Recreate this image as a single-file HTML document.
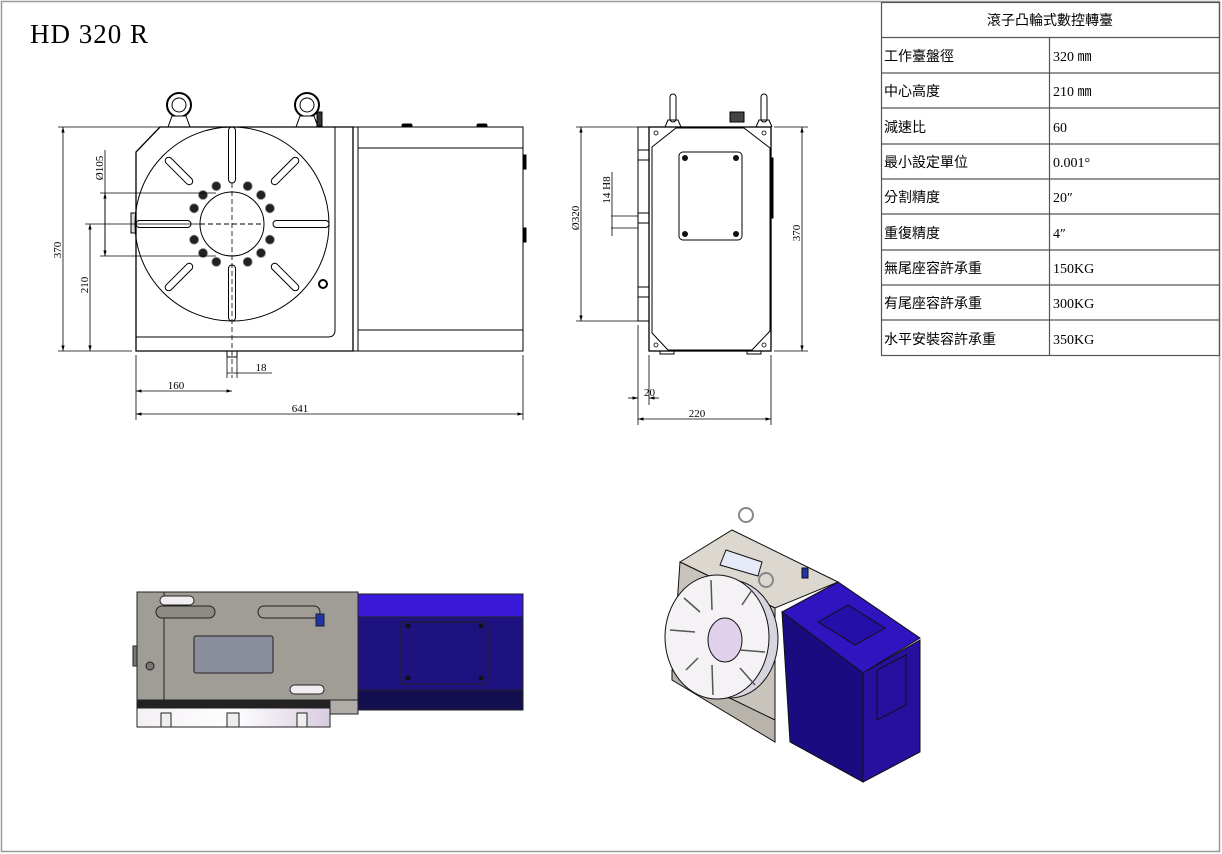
<!DOCTYPE html>
<html><head><meta charset="utf-8"><style>
html,body{margin:0;padding:0;background:#fff;}
svg{display:block}
.t{font-family:"Liberation Serif","Noto Serif CJK SC",serif;font-size:11px;fill:#000}
.c{font-family:"Liberation Sans","Noto Sans CJK TC",sans-serif;font-size:14px;fill:#000}
.v{font-family:"Liberation Serif","Noto Sans CJK TC",serif;font-size:14px;fill:#000}
</style></head><body>
<svg width="1222" height="854" viewBox="0 0 1222 854" xmlns="http://www.w3.org/2000/svg">
<defs>
<marker id="a" viewBox="0 0 10 10" refX="10" refY="5" markerWidth="7" markerHeight="7" orient="auto-start-reverse"><path d="M0,2 L10,5 L0,8z" fill="#000"/></marker>
<linearGradient id="rl" x1="0" x2="1"><stop offset="0" stop-color="#f4f0f4"/><stop offset="0.5" stop-color="#fff"/><stop offset="1" stop-color="#d8cce0"/></linearGradient>
</defs>
<rect x="1.5" y="1.5" width="1218" height="850" fill="none" stroke="#999" stroke-width="1.5"/>
<text x="30" y="43" font-family="Liberation Serif,serif" font-size="27" textLength="118" lengthAdjust="spacing">HD  320  R</text>

<!-- table -->
<g stroke="#555" stroke-width="1.2" fill="none">
<rect x="881.5" y="2.5" width="338" height="353"/>
<line x1="881" y1="37.5" x2="1220" y2="37.5"/>
<line x1="881" y1="73" x2="1220" y2="73"/><line x1="881" y1="108" x2="1220" y2="108"/>
<line x1="881" y1="144" x2="1220" y2="144"/><line x1="881" y1="179" x2="1220" y2="179"/>
<line x1="881" y1="214" x2="1220" y2="214"/><line x1="881" y1="250" x2="1220" y2="250"/>
<line x1="881" y1="285" x2="1220" y2="285"/><line x1="881" y1="320" x2="1220" y2="320"/>
<line x1="1049.5" y1="37" x2="1049.5" y2="355"/>
</g>
<text class="c" x="1050" y="25" text-anchor="middle">滾子凸輪式數控轉臺</text>
<g class="c"><text x="884" y="61">工作臺盤徑</text><text x="884" y="96">中心高度</text><text x="884" y="132">減速比</text><text x="884" y="167">最小設定單位</text><text x="884" y="202">分割精度</text><text x="884" y="238">重復精度</text><text x="884" y="273">無尾座容許承重</text><text x="884" y="308">有尾座容許承重</text><text x="884" y="344">水平安裝容許承重</text></g>
<g class="v"><text x="1053" y="61">320 ㎜</text><text x="1053" y="96">210 ㎜</text><text x="1053" y="132">60</text><text x="1053" y="167">0.001°</text><text x="1053" y="202">20″</text><text x="1053" y="238">4″</text><text x="1053" y="273">150KG</text><text x="1053" y="308">300KG</text><text x="1053" y="344">350KG</text></g>

<!-- front view -->
<g stroke="#000" stroke-width="1" fill="none">
<circle cx="179" cy="105" r="12" stroke-width="2"/><circle cx="179" cy="105" r="7"/>
<path d="M168,127 L172,116 L186,116 L190,127" fill="#fff"/>
<circle cx="307" cy="105" r="12" stroke-width="2"/><circle cx="307" cy="105" r="7"/>
<path d="M296,127 L300,116 L314,116 L318,127" fill="#fff"/>
<rect x="317" y="112" width="5" height="14" fill="#333"/>
<path d="M160,127 L353,127 L353,351 L136,351 L136,152 Z" stroke-width="1.3"/>
<path d="M136,337 L328,337 Q335,337 335,330 L335,127"/>
<rect x="353" y="127" width="5" height="224"/>
<rect x="358" y="127" width="165" height="224"/>
<line x1="358" y1="148" x2="523" y2="148"/><line x1="358" y1="330" x2="523" y2="330"/>
<rect x="402" y="124" width="10" height="3" rx="1.5" fill="#000"/><rect x="477" y="124" width="10" height="3" rx="1.5" fill="#000"/>
<rect x="523" y="155" width="3" height="14" fill="#000"/><rect x="523" y="228" width="3" height="14" fill="#000"/>
<rect x="131" y="213" width="5" height="20" fill="#ddd"/>
<circle cx="232" cy="224" r="97"/>
<circle cx="232" cy="224" r="32"/>
<circle cx="323" cy="284" r="4" stroke-width="2"/>
<rect x="228.5" y="127" width="7" height="56" rx="3.5"/>
<rect x="228.5" y="265" width="7" height="56" rx="3.5"/>
<rect x="136" y="220.5" width="55" height="7" rx="3.5"/>
<rect x="273" y="220.5" width="56" height="7" rx="3.5"/>
<g transform="rotate(45 232 224)"><rect x="228.5" y="131" width="7" height="36" rx="3.5"/><rect x="228.5" y="281" width="7" height="36" rx="3.5"/></g>
<g transform="rotate(-45 232 224)"><rect x="228.5" y="131" width="7" height="36" rx="3.5"/><rect x="228.5" y="281" width="7" height="36" rx="3.5"/></g>
<line x1="200" y1="224" x2="264" y2="224" stroke-dasharray="5,3"/>
<line x1="232" y1="183" x2="232" y2="378" stroke-dasharray="5,3" stroke-width="0.8"/>
<rect x="227" y="351" width="10" height="6"/>
</g>
<g fill="#222" stroke="#888" stroke-width="0.8">
<circle cx="247.7" cy="186.1" r="4.5"/><circle cx="261" cy="195" r="4.5"/><circle cx="269.9" cy="208.3" r="4.5"/>
<circle cx="269.9" cy="239.7" r="4.5"/><circle cx="261" cy="253" r="4.5"/><circle cx="247.7" cy="261.9" r="4.5"/>
<circle cx="216.3" cy="186.1" r="4.5"/><circle cx="203" cy="195" r="4.5"/><circle cx="194.1" cy="208.3" r="4.5"/>
<circle cx="194.1" cy="239.7" r="4.5"/><circle cx="203" cy="253" r="4.5"/><circle cx="216.3" cy="261.9" r="4.5"/>
</g>
<!-- front dims -->
<g stroke="#000" stroke-width="0.8" fill="none">
<line x1="58" y1="127" x2="160" y2="127"/><line x1="58" y1="351" x2="132" y2="351"/>
<line x1="63" y1="127" x2="63" y2="351" marker-start="url(#a)" marker-end="url(#a)"/>
<line x1="85" y1="224" x2="200" y2="224"/>
<line x1="90" y1="224" x2="90" y2="351" marker-start="url(#a)" marker-end="url(#a)"/>
<line x1="100" y1="193" x2="216" y2="193"/><line x1="100" y1="256" x2="216" y2="256"/>
<line x1="105" y1="150" x2="105" y2="256"/>
<line x1="105" y1="193" x2="105" y2="256" marker-start="url(#a)" marker-end="url(#a)"/>
<line x1="136" y1="355" x2="136" y2="420"/><line x1="523" y1="355" x2="523" y2="420"/>
<line x1="227" y1="357" x2="227" y2="378"/><line x1="237" y1="357" x2="237" y2="378"/>
<line x1="136" y1="391" x2="232" y2="391" marker-start="url(#a)" marker-end="url(#a)"/>
<line x1="227" y1="373" x2="272" y2="373"/>
<line x1="136" y1="414" x2="523" y2="414" marker-start="url(#a)" marker-end="url(#a)"/>
</g>
<text class="t" transform="translate(61,250) rotate(-90)" text-anchor="middle">370</text>
<text class="t" transform="translate(88,285) rotate(-90)" text-anchor="middle">210</text>
<text class="t" transform="translate(103,168) rotate(-90)" text-anchor="middle">Ø105</text>
<text class="t" x="176" y="389" text-anchor="middle">160</text>
<text class="t" x="261" y="371" text-anchor="middle">18</text>
<text class="t" x="300" y="412" text-anchor="middle">641</text>

<!-- side view -->
<g stroke="#000" stroke-width="1" fill="none">
<rect x="670" y="94" width="6" height="28" rx="3"/><rect x="761" y="94" width="6" height="28" rx="3"/>
<path d="M665,127 L668,120 L678,120 L681,127"/><path d="M756,127 L759,120 L769,120 L772,127"/>
<rect x="730" y="112" width="14" height="10" fill="#444"/>
<rect x="649" y="127" width="122" height="224" stroke-width="1.3"/>
<rect x="638" y="127" width="11" height="194"/>
<path d="M676,128 L744,128 L770,148 L770,331 L752,350 L668,350 L652,333 L652,147 Z"/>
<rect x="679" y="152" width="63" height="88" rx="4"/>
<rect x="638" y="150" width="11" height="10"/><rect x="638" y="213" width="11" height="10"/><rect x="638" y="287" width="11" height="10"/>
<rect x="660" y="351" width="14" height="3"/><rect x="747" y="351" width="14" height="3"/>
<rect x="770" y="158" width="3" height="60" fill="#000"/>
</g>
<g fill="#111"><circle cx="685" cy="158" r="3"/><circle cx="736" cy="158" r="3"/><circle cx="685" cy="234" r="3"/><circle cx="736" cy="234" r="3"/></g>
<g fill="none" stroke="#000" stroke-width="0.8"><circle cx="656" cy="133" r="2"/><circle cx="764" cy="133" r="2"/><circle cx="656" cy="345" r="2"/><circle cx="764" cy="345" r="2"/></g>
<g stroke="#000" stroke-width="0.8" fill="none">
<line x1="576" y1="127" x2="649" y2="127"/><line x1="576" y1="321" x2="638" y2="321"/>
<line x1="581" y1="127" x2="581" y2="321" marker-start="url(#a)" marker-end="url(#a)"/>
<line x1="774" y1="127" x2="808" y2="127"/><line x1="774" y1="351" x2="808" y2="351"/>
<line x1="802" y1="127" x2="802" y2="351" marker-start="url(#a)" marker-end="url(#a)"/>
<line x1="611" y1="216" x2="638" y2="216"/><line x1="611" y1="228" x2="638" y2="228"/>
<line x1="612" y1="172" x2="612" y2="236"/>
<line x1="638" y1="325" x2="638" y2="425"/><line x1="649" y1="355" x2="649" y2="405"/><line x1="771" y1="355" x2="771" y2="425"/>
<line x1="628" y1="398" x2="638" y2="398" marker-end="url(#a)"/><line x1="659" y1="398" x2="649" y2="398" marker-end="url(#a)"/>
<line x1="638" y1="419" x2="771" y2="419" marker-start="url(#a)" marker-end="url(#a)"/>
</g>
<text class="t" transform="translate(579,218) rotate(-90)" text-anchor="middle">Ø320</text>
<text class="t" transform="translate(610,190) rotate(-90)" text-anchor="middle">14 H8</text>
<text class="t" transform="translate(800,233) rotate(-90)" text-anchor="middle">370</text>
<text class="t" x="644" y="396">20</text>
<text class="t" x="697" y="417" text-anchor="middle">220</text>

<!-- 3D side image -->
<g stroke="#222" stroke-width="1">
<rect x="137" y="592" width="221" height="108" fill="#a09c96"/>
<line x1="164" y1="592" x2="164" y2="700"/>
<rect x="156" y="606" width="59" height="12" rx="6" fill="#8d8985"/>
<rect x="258" y="606" width="62" height="12" rx="6" fill="#a09c96"/>
<rect x="194" y="636" width="79" height="37" rx="2" fill="#8a8e9c"/>
<rect x="160" y="596" width="34" height="9" rx="4.5" fill="#f0eef0"/>
<rect x="290" y="685" width="34" height="9" rx="4.5" fill="#f0eef0"/>
<rect x="316" y="614" width="8" height="12" fill="#2233aa"/>
<rect x="133" y="646" width="4" height="20" fill="#777"/>
<circle cx="150" cy="666" r="4" fill="#777"/>
<rect x="137" y="700" width="193" height="8" fill="#222"/>
<rect x="137" y="708" width="193" height="19" fill="url(#rl)"/>
<rect x="330" y="700" width="28" height="14" fill="#b0aca8"/>
<rect x="161" y="713" width="10" height="14" fill="#eee"/><rect x="227" y="713" width="12" height="14" fill="#eee"/><rect x="297" y="713" width="10" height="14" fill="#eee"/>
<rect x="358" y="594" width="165" height="116" fill="#1e1180"/>
<rect x="358" y="594" width="165" height="23" fill="#3a1ad8"/>
<rect x="358" y="690" width="165" height="20" fill="#141050"/>
<rect x="400" y="622" width="88" height="62" rx="3" fill="none"/>
</g>
<g fill="#111"><circle cx="408" cy="626" r="2.5"/><circle cx="481" cy="626" r="2.5"/><circle cx="408" cy="678" r="2.5"/><circle cx="481" cy="678" r="2.5"/></g>

<!-- isometric image -->
<g stroke="#111" stroke-width="1">
<polygon points="680,562 732,530 838,582 775,608" fill="#dcd8d0"/>
<polygon points="680,562 775,608 775,742 672,678" fill="#c8c4bc"/>
<polygon points="672,670 775,720 775,742 672,680" fill="#b8b4ac"/>
<polygon points="726,550 762,562 758,576 720,565" fill="#e6eaf8"/>
<ellipse cx="730" cy="639" rx="48" ry="59" fill="#d8d4e0"/>
<ellipse cx="717" cy="637" rx="52" ry="62" fill="#f4f2f4"/>
<ellipse cx="725" cy="640" rx="17" ry="22" fill="#e0d0ec"/>
<g stroke="#555" stroke-width="1.5">
<line x1="711" y1="580" x2="712" y2="610"/><line x1="712" y1="665" x2="713" y2="695"/>
<line x1="670" y1="630" x2="695" y2="632"/><line x1="740" y1="650" x2="765" y2="652"/>
<line x1="684" y1="598" x2="700" y2="612"/><line x1="740" y1="668" x2="755" y2="685"/>
<line x1="742" y1="605" x2="752" y2="590"/><line x1="686" y1="670" x2="698" y2="658"/>
</g>
<polygon points="782,612 838,582 920,638 863,673" fill="#3014c0"/>
<polygon points="782,612 863,673 863,782 790,742" fill="#1a0c80"/>
<polygon points="863,673 920,640 920,752 863,782" fill="#28109e"/>
<polygon points="818,622 848,605 885,628 855,645" fill="#2410a8"/>
<polygon points="877,670 906,655 906,705 877,720" fill="none"/>
<circle cx="746" cy="515" r="7" fill="none" stroke="#888" stroke-width="2"/>
<circle cx="766" cy="580" r="7" fill="none" stroke="#888" stroke-width="2"/>
<rect x="802" y="568" width="6" height="10" fill="#2233aa"/>
</g>
</svg>
</body></html>
